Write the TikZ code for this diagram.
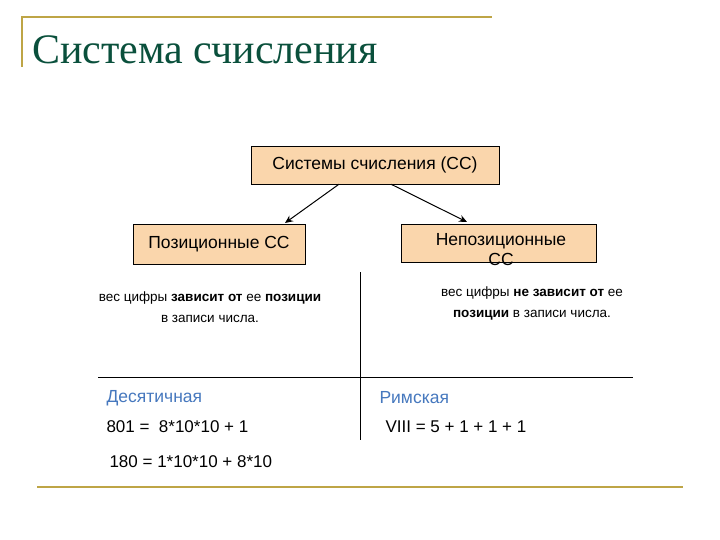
\documentclass[tikz,border=0pt]{standalone}
\usepackage{fontspec}
\setmainfont{Liberation Sans}
\newfontfamily\titlefont{Liberation Serif}
\begin{document}
\begin{tikzpicture}[x=1pt,y=-1pt,
 box/.style={draw,fill=boxfill,font=\fontsize{17.5}{20}\selectfont,inner sep=0},
 small/.style={font=\fontsize{13.5}{21}\selectfont,align=center},
 big/.style={font=\fontsize{17}{20}\selectfont,anchor=west},
 lbl/.style={font=\fontsize{17.5}{20}\selectfont,anchor=west,text=lblblue},
 gold/.style={draw=goldline,line width=1.5pt},
 arr/.style={-{Stealth[length=8pt,width=7pt]},line width=1pt}]
\usetikzlibrary{arrows.meta}
\definecolor{boxfill}{RGB}{250,214,172}
\definecolor{goldline}{RGB}{190,165,70}
\definecolor{titlegreen}{RGB}{10,80,60}
\definecolor{lblblue}{RGB}{70,120,190}
\useasboundingbox (0,0) rectangle (720,540);
\fill[white] (0,0) rectangle (720,540);
\coordinate (g1) at (22,67); \coordinate (g2) at (22,17); \coordinate (g3) at (492,17);
\draw[gold] (g1) -- (g2) -- (g3);
\coordinate (b1) at (37,487); \coordinate (b2) at (683,487);
\draw[gold] (b1) -- (b2);
\node[anchor=base west,text=titlegreen,font=\titlefont\fontsize{42}{44}\selectfont,inner sep=0] (title) at (32,64) {Система счисления};
\node[box,minimum width=248,minimum height=38] (top) at (375,165) {Системы счисления (СС)};
\node[box,minimum width=172,minimum height=40] (left) at (219,244) {Позиционные СС};
\node[box,minimum width=195,minimum height=38,anchor=north west] (right) at (401,224) {};
\node[font=\fontsize{17.5}{20}\selectfont,align=center] (rt) at (501,250) {Непозиционные\\СС};
\draw[arr] (top.south -| 339,0) -- (285,223);
\draw[arr] (top.south -| 391,0) -- (467,222);
\coordinate (v1) at (360,272); \coordinate (v2) at (360,440);
\draw (v1) -- (v2);
\coordinate (h1) at (98,377); \coordinate (h2) at (633,377);
\draw (h1) -- (h2);
\node[small] (lt) at (210,307) {вес цифры \textbf{зависит от} ее \textbf{позиции}\\в записи числа.};
\node[small] (rtx) at (532,303) {вес цифры \textbf{не зависит от} ее\\\textbf{позиции} в записи числа.};
\node[lbl] (dec) at (103,398) {Десятичная};
\node[lbl] (rom) at (376,398) {Римская};
\node[big] (e1) at (103,427) {801 =\ \ 8*10*10 + 1};
\node[big] (e2) at (382,427) {VIII = 5 + 1 + 1 + 1};
\node[big] (e3) at (106,462) {180 = 1*10*10 + 8*10};
\end{tikzpicture}
\end{document}
